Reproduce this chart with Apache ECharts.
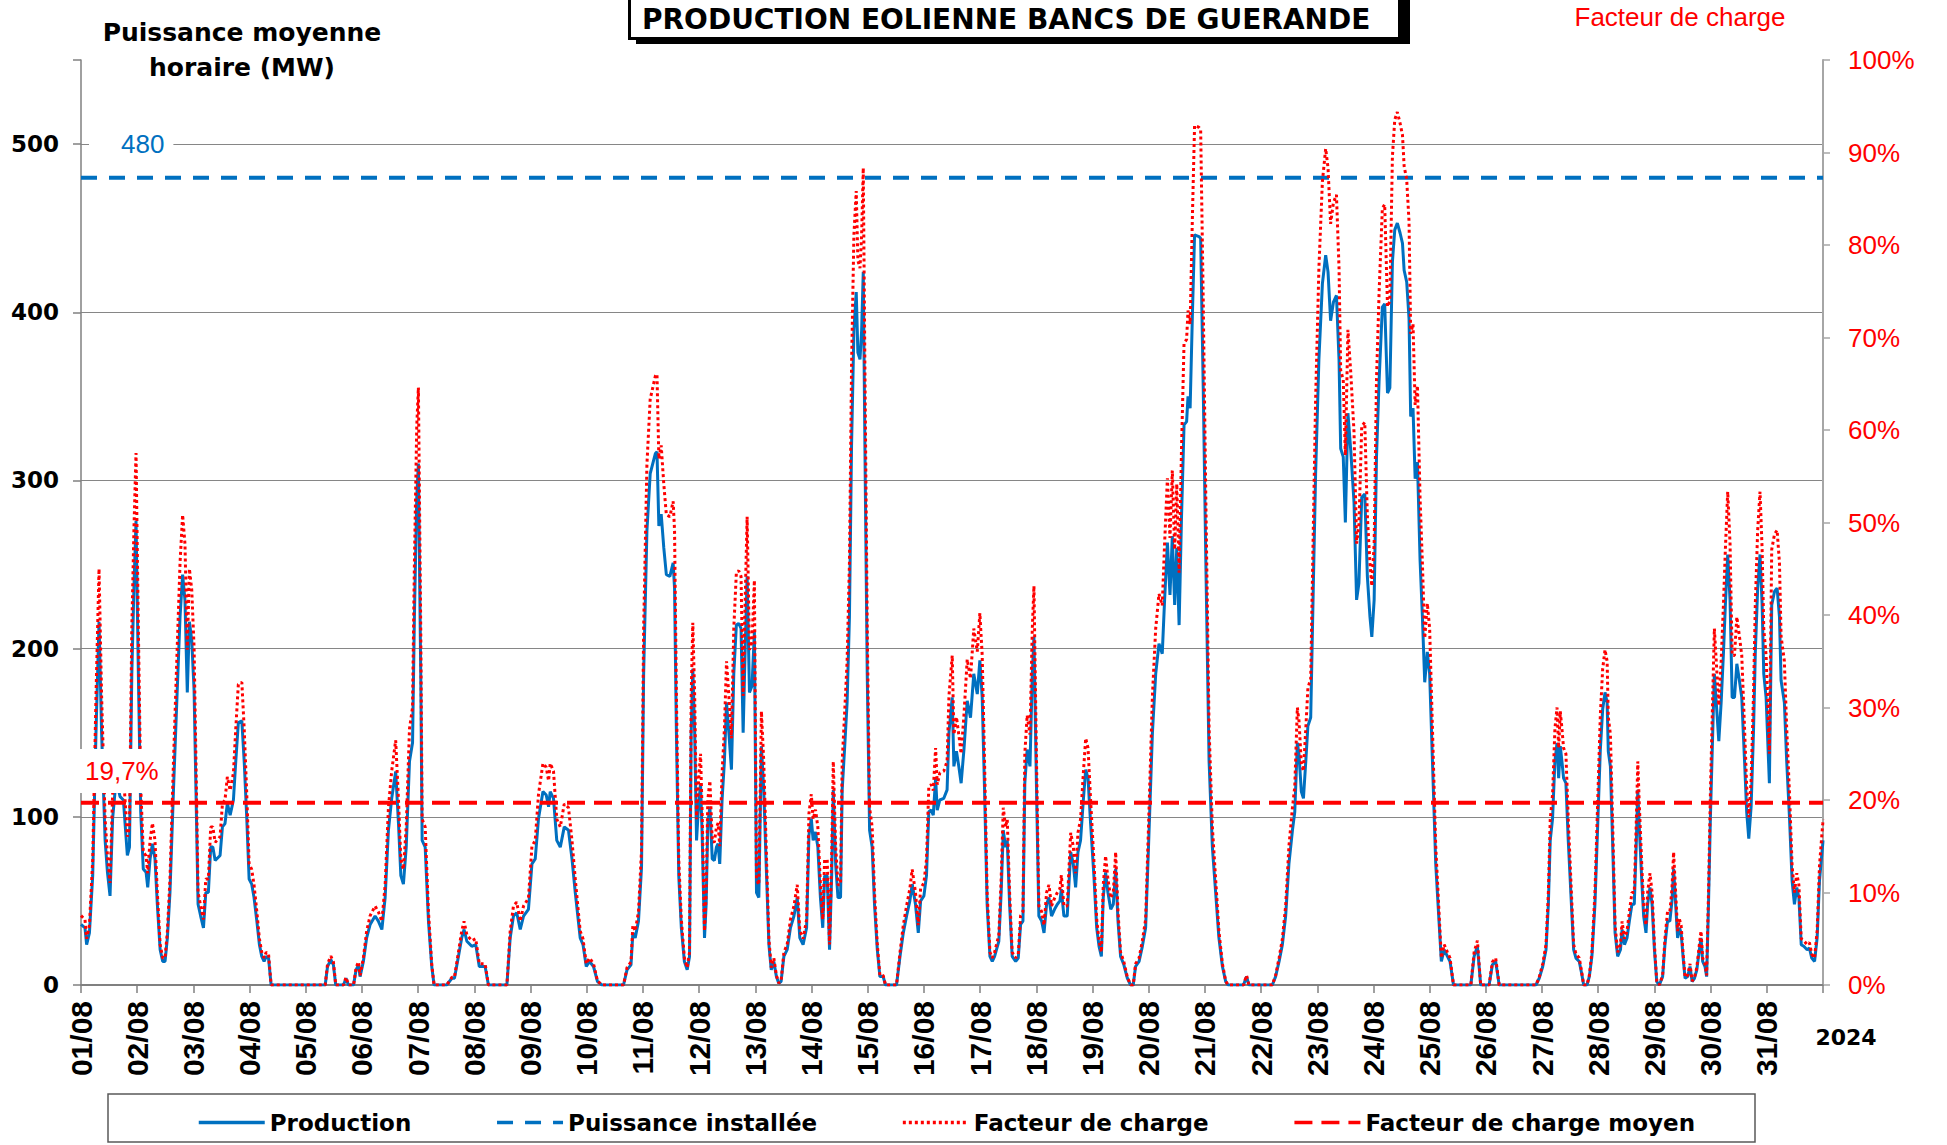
<!DOCTYPE html>
<html>
<head>
<meta charset="utf-8">
<script src="https://cdn.jsdelivr.net/npm/echarts@6/dist/echarts.min.js"></script>
<style>
html,body{margin:0;padding:0;background:#ffffff;}
#chart{width:1947px;height:1145px;}
</style>
</head>
<body>
<div id="chart"></div>
<script>
// ---------- DATA ----------
const chartTitle = 'PRODUCTION EOLIENNE BANCS DE GUERANDE';
const leftAxisName = 'Puissance moyenne\nhoraire (MW)';
const rightAxisName = 'Facteur de charge';
const yearLabel = '2024';
const dayLabels = ['01/08','02/08','03/08','04/08','05/08','06/08','07/08','08/08','09/08','10/08',
  '11/08','12/08','13/08','14/08','15/08','16/08','17/08','18/08','19/08','20/08',
  '21/08','22/08','23/08','24/08','25/08','26/08','27/08','28/08','29/08','30/08','31/08'];
const monthHours = 744;
const installedMW = 480;
const meanLoadFactorPct = 19.7;
const seriesNames = ['Production','Puissance installée','Facteur de charge','Facteur de charge moyen'];

// [hour since 01/08 00:00, mean hourly power MW]
const productionSamples = [
[0,36],[1.7,34],[2.4,24],[3.6,31],[5.0,65],[6.4,150],[7.7,216],[8.8,150],[10.3,86],[11.3,67],
[12.4,53],[13.5,99],[15.0,122],[16.7,112],[18.1,110],[19.8,77],[20.7,82],[21.7,185],[22.6,236],[23.5,276],
[24.5,185],[25.5,103],[26.6,69],[27.8,67],[28.5,58],[29.5,75],[30.5,84],[31.6,75],[32.6,48],[33.8,21],
[34.9,14],[35.9,14],[36.9,28],[38.0,55],[39.5,116],[40.9,168],[42.3,219],[43.4,244],[44.4,229],[45.4,174],
[46.3,216],[47.3,205],[48.3,175],[49.1,116],[50.0,48],[51.1,41],[52.3,34],[53.3,55],[54.4,55],[55.4,82],
[56.3,82],[57.3,74],[59.4,77],[60.4,94],[61.5,96],[62.5,108],[63.7,101],[65.1,110],[66.1,133],[67.2,156],
[68.7,157],[69.7,133],[70.8,99],[71.8,63],[72.9,60],[73.9,52],[75.1,38],[76.2,24],[77.2,17],[78.2,14],
[79.1,17],[80.1,16],[81.2,0],[104.3,0],[105.3,11],[106.7,15],[107.8,12],[108.8,0],[112.1,0],[113.2,4],
[114.2,0],[116.4,0],[117.5,9],[118.5,12],
[119.2,5],[120.6,14],[122.0,28],[123.5,36],[125.6,41],[127.0,38],[128.5,33],[129.9,52],[131.3,92],[132.7,111],
[134.4,127],[135.6,96],[136.6,65],[137.7,60],[138.9,82],[140.3,133],[141.6,144],[142.4,219],[143.4,290],[144.1,310],
[145.1,185],[145.7,86],[147.0,82],[148.4,38],[149.8,11],[150.8,0],[156.2,0],[158.4,4],[159.5,4],[161.2,17],
[162.6,28],[163.6,33],[164.8,26],[166.9,23],[168.6,24],[170.1,11],[172.6,11],[174.0,0],[181.9,0],[183.3,28],
[184.7,41],[186.1,43],[187.6,33],[189.0,41],[191.1,45],[192.6,72],[194.0,75],[195.4,99],[197.3,115],[198.7,113],
[199.7,106],[200.4,115],[201.8,111],[203.2,86],[204.7,82],[206.4,94],[208.2,92],[209.7,75],[211.1,55],[213.2,28],
[214.4,24],[215.8,11],[217.2,14],[218.9,11],[220.6,2],[222.5,0],[231.7,0],[233.2,9],[234.9,12],[235.7,31],
[236.7,28],[238.1,38],[239.4,70],[240.3,185],[241.7,270],[243.1,304],
[245.3,316],[246.0,317],[246.8,273],[247.8,280],[248.9,260],[250.0,244],[251.5,243],[252.9,251],[253.5,236],[254.3,150],
[255.3,65],[256.4,34],[257.7,14],[258.9,9],[259.9,17],[260.6,150],[261.3,188],[262.1,150],[262.9,86],[263.6,103],
[264.6,120],[265.3,89],[266.3,28],[267.0,48],[267.7,96],[268.6,106],[269.6,75],[270.5,74],[271.4,82],[272.1,84],
[272.8,72],[273.8,110],[274.8,133],[275.7,168],[276.7,150],[277.8,128],[278.8,185],[279.9,214],[280.9,215],[281.9,212],
[282.8,150],[283.5,191],[284.5,243],[285.5,174],[286.6,178],[287.6,210],[288.5,55],[289.5,52],[290.6,142],[291.6,116],
[292.8,65],[293.8,24],[294.8,9],[295.9,14],[297.0,5],[298.0,1],[299.0,2],[300.2,17],[301.6,21],[303.0,34],
[304.5,41],[305.9,52],[307.0,28],[308.4,24],[309.9,34],[310.9,89],[311.9,99],[312.7,86],[313.7,91],[314.7,82],
[315.8,52],[316.8,34],[317.6,65],[318.7,65],[319.7,21],[320.6,65],[321.3,116],[322.3,72],[323.3,52],[324.4,52],
[325.1,116],[326.1,140],[327.2,168],[328.2,219],[329.1,321],[330.1,389],[331.1,412],[331.8,376],[332.7,372],[333.4,389],
[334.1,424],[334.8,321],[335.8,185],[336.8,92],[337.9,82],[338.9,48],[340.1,21],[341.2,5],[342.6,5],[343.6,0],
[348.3,0],[349.8,17],[351.2,31],[352.6,41],[354.0,50],[355.0,60],[356.4,48],[357.6,31],[358.6,50],[360.0,53],
[361.1,65],[362.1,103],[363.1,104],[364.0,101],[365.0,123],[365.7,104],[366.8,110],
[368.5,111],[369.9,116],[370.7,150],[372.1,171],[372.8,130],[373.9,139],[374.9,130],[375.9,120],[377.1,140],[378.5,169],
[379.9,159],[381.3,185],[382.8,173],[383.9,193],[384.9,171],[385.9,116],[387.0,48],[388.2,17],[389.2,14],[390.2,17],
[391.0,21],[392.0,26],[393.0,55],[393.9,92],[394.9,82],[395.6,86],[396.6,48],[397.7,17],[399.2,14],[400.3,16],
[401.3,36],[402.3,38],[403.1,120],[404.1,140],[405.3,130],[406.3,185],[407.0,207],[408.1,116],[409.1,41],[410.3,38],
[411.3,31],[412.4,48],[413.4,52],[414.5,41],[415.8,45],[417.0,48],[418.1,50],[418.7,57],[419.8,41],[421.2,41],
[422.7,79],[423.8,72],[424.8,58],[425.8,79],[426.9,86],[428.1,110],[429.1,128],[430.1,123],[431.2,96],[432.6,65],
[433.8,34],[434.8,23],[435.8,17],[436.6,52],[437.6,67],[438.6,55],[439.8,45],[440.9,48],[441.9,69],[442.9,38],
[444.0,17],[445.4,12],[446.9,4],[448.3,0],[449.4,0],[450.4,11],[451.9,14],[453.3,23],[454.7,34],[456.1,89],
[457.6,150],[459.0,185],[460.4,203],[461.8,197],[462.8,229],[464.0,263],[465.1,232],[466.1,267],[467.1,226],[468.0,260],
[469.0,214],[470.0,277],[471.1,333],[472.2,335],[472.8,350],[473.7,343],[474.7,400],[475.6,446],[477.5,445],[478.2,444],
[479.3,355],[480.4,253],[481.8,133],[483.2,82],[484.6,55],[486.0,28],[487.5,11],[488.9,2],[489.9,0],
[496.5,0],[497.8,5],[498.8,0],[508.8,0],[510.2,5],[511.7,14],[513.1,24],[514.5,41],[515.9,72],[517.4,92],
[518.4,103],[519.5,144],[520.2,137],[521.2,115],[522.1,111],[523.1,133],[524.0,154],[525.2,159],[526.3,236],[527.3,304],
[528.7,372],[530.2,417],[531.6,434],[532.6,424],[533.7,395],[534.9,406],[536.2,410],[537.3,372],[538.0,319],[539.1,314],
[540.0,275],[541.1,340],[542.3,318],[543.7,287],[544.8,229],[545.8,239],[547.0,290],[548.3,292],[549.4,243],[550.5,219],
[551.3,207],[552.3,229],[553.3,314],[554.4,359],[555.8,403],[556.8,405],[558.0,352],[559.0,355],[560.1,430],[561.1,449],
[562.2,453],[563.4,447],[564.4,441],[565.1,425],[566.2,418],[567.2,396],[567.9,338],[568.9,343],[569.8,301],[570.8,311],
[571.9,253],[572.9,219],[573.9,180],[575.0,198],[576.0,185],[577.2,133],[578.6,72],[580.0,38],[581.0,14],[582.2,21],
[583.6,17],[584.7,14],[586.2,0],[593.6,0],[595.0,17],[596.4,23],[597.8,0],[601.4,0],[602.8,12],[604.2,14],
[605.7,0],[621.4,0],[622.8,4],[624.3,11],[625.7,21],[626.7,48],[627.5,86],[628.5,99],[629.5,133],[630.4,144],
[631.1,123],[631.8,142],[632.5,133],[633.2,123],[634.2,120],[635.2,86],[636.4,52],[637.5,21],[638.5,16],[639.9,14],
[640.9,7],[641.8,0],[643.2,0],[644.2,5],[645.3,17],[646.6,48],[647.8,96],[648.9,140],[649.9,164],[650.9,174],
[651.8,168],[652.3,139],[653.2,130],[654.2,82],[655.2,31],[656.3,17],[657.5,21],[658.2,33],[659.2,24],[660.3,28],
[661.3,38],[662.4,48],[663.4,48],[664.2,82],[664.9,116],[665.6,92],[666.6,62],[667.4,41],[668.4,31],[669.1,48],
[670.1,58],[671.0,48],[672.0,21],[673.0,2],[674.1,0],[675.5,5],[676.5,24],[677.6,38],[678.6,38],[679.5,50],
[680.2,69],[680.9,52],[681.9,28],[682.7,34],[683.4,31],[684.4,14],[685.1,4],[686.2,5],[687.2,11],[688.1,2],
[689.1,4],[690.1,9],[691.2,21],[691.9,28],[692.6,14],[693.6,11],[694.3,5],[695.1,48],[695.9,99],[696.9,150],
[697.6,185],[698.6,164],[699.5,145],[700.5,168],[701.5,198],[702.3,226],[703.3,256],[704.3,229],[705.2,171],[706.2,171],
[707.2,191],[708.3,181],[709.3,171],[710.5,133],[711.4,103],[712.3,87],[713.3,106],[714.3,150],[715.1,198],[716.1,236],
[717.1,256],[718.0,226],[718.7,185],[719.7,171],[721.1,120],[722.1,226],[723.3,234],[724.4,236],[725.4,219],[726.1,181],
[727.5,168],[728.5,133],[729.7,99],[730.8,62],[731.8,48],[732.8,58],[733.7,52],[734.7,24],[735.8,23],[737.2,21],
[738.2,22],[739.2,16],[740.4,14],[741.5,28],[742.5,62],[743.9,84],[744,86]
];

// ---------- DERIVED SERIES ----------
const productionData = productionSamples.map(p => [p[0], p[1]]);
const loadFactorData = productionSamples.map(p => [p[0], +(p[1] / installedMW * 100).toFixed(2)]);
const installedData = [[0, installedMW], [monthHours, installedMW]];
const meanFactorData = [[0, meanLoadFactorPct], [monthHours, meanLoadFactorPct]];
const meanFactorText = String(meanLoadFactorPct).replace('.', ',') + '%';

const BLUE = '#0070C0', RED = '#FF0000', GRID = '#868686';
const BOLD = 'DejaVu Sans';

const chart = echarts.init(document.getElementById('chart'), null, {renderer: 'svg'});
chart.setOption({
  animation: false,
  backgroundColor: '#ffffff',
  title: {
    text: chartTitle, left: 642, top: 2, padding: 0, z: 10,
    textStyle: {fontFamily: BOLD, fontWeight: 'bold', fontSize: 28, color: '#000', lineHeight: 34}
  },
  grid: {left: 81, right: 124, top: 60, bottom: 160, containLabel: false, outerBoundsMode: 'none'},
  legend: {
    left: 192, top: 1106, itemWidth: 66, itemHeight: 14, itemGap: 84,
    itemStyle: {opacity: 0},
    lineStyle: {width: 3.5},
    textStyle: {fontFamily: BOLD, fontWeight: 'bold', fontSize: 23, color: '#000'},
    data: seriesNames
  },
  xAxis: {
    type: 'value', min: 0, max: monthHours, interval: 24,
    axisLine: {show: true, lineStyle: {color: '#808080', width: 2}},
    axisTick: {show: true, length: 8, lineStyle: {color: '#808080', width: 1.5}},
    splitLine: {show: false},
    axisLabel: {
      rotate: 90, margin: 16,
      formatter: v => dayLabels[Math.round(v / 24)] || '',
      fontFamily: 'Liberation Sans Narrow, Liberation Sans', fontWeight: 'bold', fontSize: 30, color: '#000'
    }
  },
  yAxis: [
    {
      type: 'value', min: 0, max: 550, interval: 100, position: 'left',
      name: leftAxisName, nameLocation: 'end', nameGap: 10,
      nameTextStyle: {fontFamily: BOLD, fontWeight: 'bold', fontSize: 25, color: '#000', lineHeight: 35,
        align: 'center', verticalAlign: 'middle', padding: [0, 0, 0, 322]},
      axisLine: {show: true, lineStyle: {color: '#808080', width: 1.5}},
      axisTick: {show: true, length: 8, lineStyle: {color: '#808080', width: 1.5}},
      splitLine: {show: true, showMaxLine: false, lineStyle: {color: GRID, width: 1.2}},
      axisLabel: {margin: 22, formatter: v => (v === 550 ? '' : String(v)),
        fontFamily: BOLD, fontWeight: 'bold', fontSize: 23, color: '#000'}
    },
    {
      type: 'value', min: 0, max: 100, interval: 10, position: 'right',
      name: rightAxisName, nameLocation: 'end', nameGap: 43,
      nameTextStyle: {fontFamily: 'Liberation Sans', fontSize: 26, color: RED,
        align: 'center', verticalAlign: 'middle', padding: [0, 286, 0, 0]},
      axisLine: {show: true, lineStyle: {color: '#a6a6a6', width: 2}},
      axisTick: {show: true, length: 7, lineStyle: {color: '#a6a6a6', width: 1.5}},
      splitLine: {show: false},
      axisLabel: {margin: 25, formatter: '{value}%', fontFamily: 'Liberation Sans', fontSize: 26, color: RED}
    }
  ],
  series: [
    {name: seriesNames[0], type: 'line', data: productionData, symbol: 'none', z: 2,
      lineStyle: {color: BLUE, width: 3}, itemStyle: {color: BLUE}},
    {name: seriesNames[1], type: 'line', data: installedData, symbol: 'none', z: 3,
      lineStyle: {color: BLUE, width: 4, type: [16, 12]}, itemStyle: {color: BLUE}},
    {name: seriesNames[2], type: 'line', yAxisIndex: 1, data: loadFactorData, symbol: 'none', z: 4,
      lineStyle: {color: RED, width: 3, type: [3, 3]}, itemStyle: {color: RED}},
    {name: seriesNames[3], type: 'line', yAxisIndex: 1, data: meanFactorData, symbol: 'none', z: 5,
      lineStyle: {color: RED, width: 4, type: [18, 9]}, itemStyle: {color: RED}}
  ],
  graphic: [
    {type: 'rect', z: 1, shape: {x: 636, y: -10, width: 774, height: 54}, style: {fill: '#000'}},
    {type: 'rect', z: 2, shape: {x: 629.5, y: -10, width: 770, height: 48.5}, style: {fill: '#fff', stroke: '#000', lineWidth: 3}},
    {type: 'rect', z: 1, shape: {x: 108, y: 1094, width: 1647, height: 48}, style: {fill: 'none', stroke: '#595959', lineWidth: 1.5}},
    {type: 'text', z: 100, x: 89, y: 144, style: {text: String(installedMW), fill: BLUE, font: '26px "Liberation Sans"',
      align: 'left', verticalAlign: 'middle', backgroundColor: '#fff', padding: [3, 9, 3, 32]}},
    {type: 'text', z: 100, x: 80, y: 771, style: {text: meanFactorText, fill: RED, font: '26px "Liberation Sans"',
      align: 'left', verticalAlign: 'middle', backgroundColor: '#fff', padding: [9, 11, 9, 5]}},
    {type: 'text', z: 100, x: 1846, y: 1037, style: {text: yearLabel, fill: '#000', font: 'bold 22px "DejaVu Sans"',
      align: 'center', verticalAlign: 'middle'}}
  ]
});
</script>
</body>
</html>
